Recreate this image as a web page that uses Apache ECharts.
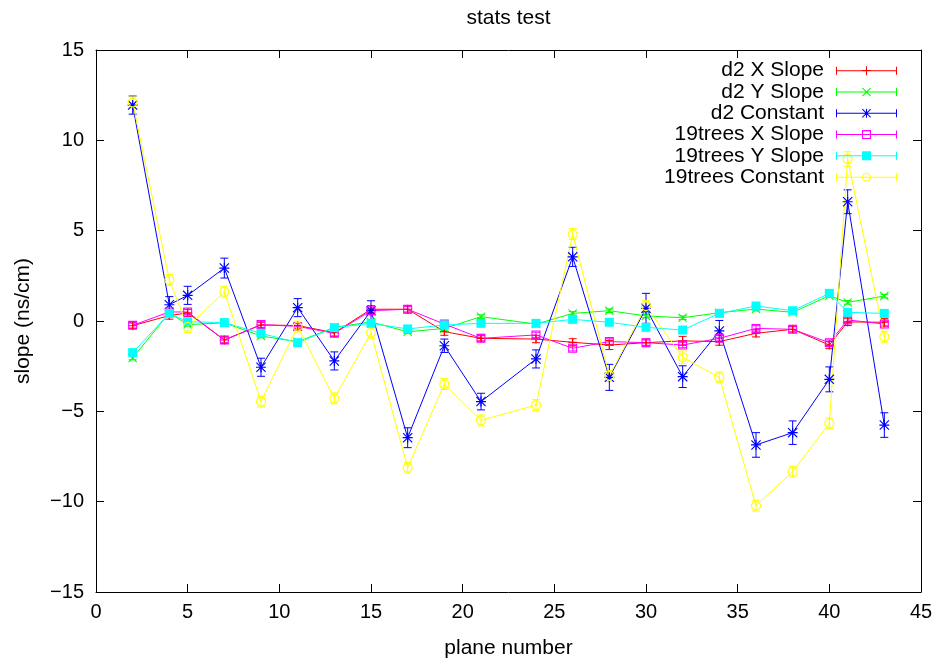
<!DOCTYPE html>
<html>
<head>
<meta charset="utf-8">
<title>stats test</title>
<script src="https://cdn.jsdelivr.net/npm/echarts@6/dist/echarts.min.js"></script>
<style>
  html, body { margin: 0; padding: 0; background: #fff; }
  #chart { width: 944px; height: 664px; }
</style>
</head>
<body>
<div id="chart"></div>
<script>
// Plane numbers along the x axis
const planes = [2, 4, 5, 7, 9, 11, 13, 15, 17, 19, 21, 24, 26, 28, 30, 32, 34, 36, 38, 40, 41, 43];

// Fitted slopes / constants per plane, with their errors
const d2XSlope = [-0.26, 0.3, 0.45, -1.05, -0.22, -0.25, -0.65, 0.65, 0.65, -0.59, -0.96, -1.0, -1.18, -1.33, -1.2, -1.1, -1.14, -0.68, -0.46, -1.33, -0.05, -0.07];
const d2XSlopeErr = [0.15, 0.2, 0.2, 0.2, 0.15, 0.15, 0.2, 0.2, 0.2, 0.2, 0.15, 0.2, 0.2, 0.25, 0.2, 0.25, 0.2, 0.2, 0.15, 0.2, 0.2, 0.2];

const d2YSlope = [-2.05, 0.45, -0.2, -0.1, -0.83, -1.15, -0.35, -0.05, -0.6, -0.41, 0.24, -0.17, 0.42, 0.57, 0.28, 0.18, 0.46, 0.66, 0.48, 1.4, 1.03, 1.38];
const d2YSlopeErr = [0.1, 0.1, 0.1, 0.1, 0.1, 0.1, 0.1, 0.1, 0.1, 0.1, 0.1, 0.1, 0.1, 0.1, 0.1, 0.1, 0.1, 0.1, 0.1, 0.1, 0.1, 0.1];

const d2Constant = [11.95, 0.9, 1.42, 2.93, -2.56, 0.74, -2.21, 0.57, -6.46, -1.37, -4.46, -2.1, 3.55, -3.12, 0.7, -3.08, -0.55, -6.86, -6.18, -3.23, 6.6, -5.76];
const d2ConstantErr = [0.5, 0.45, 0.5, 0.55, 0.5, 0.5, 0.5, 0.55, 0.55, 0.37, 0.46, 0.5, 0.53, 0.72, 0.83, 0.6, 0.58, 0.68, 0.65, 0.69, 0.66, 0.68];

const t19XSlope = [-0.24, 0.5, 0.5, -1.05, -0.2, -0.3, -0.68, 0.57, 0.65, -0.17, -0.96, -0.77, -1.51, -1.14, -1.2, -1.33, -0.96, -0.41, -0.46, -1.2, 0.06, -0.17];
const t19XSlopeErr = [0.15, 0.15, 0.15, 0.15, 0.15, 0.15, 0.15, 0.15, 0.15, 0.15, 0.15, 0.15, 0.15, 0.15, 0.15, 0.15, 0.15, 0.15, 0.15, 0.15, 0.15, 0.15];

const t19YSlope = [-1.75, 0.42, -0.04, -0.09, -0.68, -1.2, -0.37, -0.13, -0.44, -0.22, -0.13, -0.13, 0.09, -0.07, -0.35, -0.5, 0.42, 0.83, 0.57, 1.53, 0.48, 0.42];
const t19YSlopeErr = [0.1, 0.1, 0.1, 0.1, 0.1, 0.1, 0.1, 0.1, 0.1, 0.1, 0.1, 0.1, 0.1, 0.1, 0.1, 0.1, 0.1, 0.1, 0.1, 0.1, 0.1, 0.1];

const t19Constant = [12.1, 2.27, -0.33, 1.62, -4.46, -0.31, -4.28, -0.65, -8.12, -3.49, -5.5, -4.65, 4.81, -3.04, 0.83, -2.01, -3.12, -10.22, -8.34, -5.66, 8.97, -0.87];
const t19ConstantErr = [0.3, 0.3, 0.3, 0.3, 0.3, 0.3, 0.3, 0.3, 0.3, 0.3, 0.3, 0.3, 0.3, 0.3, 0.3, 0.35, 0.3, 0.3, 0.3, 0.3, 0.4, 0.3];

const seriesNames = ['d2 X Slope', 'd2 Y Slope', 'd2 Constant', '19trees X Slope', '19trees Y Slope', '19trees Constant'];
const seriesValues = [d2XSlope, d2YSlope, d2Constant, t19XSlope, t19YSlope, t19Constant];
const seriesErrors = [d2XSlopeErr, d2YSlopeErr, d2ConstantErr, t19XSlopeErr, t19YSlopeErr, t19ConstantErr];

const xTicks = { min: 0, max: 45, step: 5 };
const yTicks = { min: -15, max: 15, step: 5 };

// ---- styling ----
const FONT = "'Liberation Sans', Arial, Helvetica, sans-serif";
const colors = ['#ff0000', '#00ff00', '#0000ff', '#ff00ff', '#00ffff', '#ffff00'];

// Point shapes in unit coordinates (0..1); holes are drawn with reversed winding.
function ring(r, n, reverse) {
  const pts = [];
  for (let i = 0; i < n; i++) {
    const a = (reverse ? -1 : 1) * i / n * Math.PI * 2;
    pts.push([0.5 + r * Math.cos(a), 0.5 + r * Math.sin(a)]);
  }
  return pts;
}
const plusShape = [
  [[0.44, 0], [0.56, 0], [0.56, 1], [0.44, 1]],
  [[0, 0.44], [1, 0.44], [1, 0.56], [0, 0.56]]
];
const crossShape = [
  [[0, 0.08], [0.08, 0], [1, 0.92], [0.92, 1]],
  [[0.92, 0], [1, 0.08], [0.08, 1], [0, 0.92]]
];
const shapes = [
  plusShape,
  crossShape,
  plusShape.concat(crossShape),
  [[[0, 0], [1, 0], [1, 1], [0, 1]], [[0.12, 0.12], [0.12, 0.88], [0.88, 0.88], [0.88, 0.12]]],
  [[[0, 0], [1, 0], [1, 1], [0, 1]]],
  [ring(0.5, 36, false), ring(0.39, 36, true)]
];
const symbolSizes = [9, 9, 10, 9, 9, 10];

function polyPath(polys, ox, oy, s) {
  return polys.map(p => 'M' + p.map(q => (ox + q[0] * s).toFixed(2) + ',' + (oy + q[1] * s).toFixed(2)).join('L') + 'Z').join('');
}
function symbolPath(i) {
  return 'path://' + polyPath(shapes[i], 0, 0, 100);
}
// Key sample: a short error-bar line with end caps and the point shape in the middle
const KEY_W = 61, KEY_H = 9;
function keyIcon(i) {
  const base = 'M0,4L' + KEY_W + ',4L' + KEY_W + ',5L0,5Z' +
    'M0,0.5L1,0.5L1,8.5L0,8.5Z' +
    'M' + (KEY_W - 1) + ',0.5L' + KEY_W + ',0.5L' + KEY_W + ',8.5L' + (KEY_W - 1) + ',8.5Z';
  return 'path://' + base + polyPath(shapes[i], KEY_W / 2 - KEY_H / 2, 0, KEY_H);
}

const minus = v => String(v).replace('-', '\u2212');

function errorBarRenderer(color) {
  return function (params, api) {
    const x = api.value(0);
    const top = api.coord([x, api.value(2)]);
    const bot = api.coord([x, api.value(1)]);
    const hw = 4;
    const style = { stroke: color, lineWidth: 1, fill: null };
    return {
      type: 'group',
      children: [
        { type: 'line', shape: { x1: top[0], y1: top[1], x2: bot[0], y2: bot[1] }, style: style },
        { type: 'line', shape: { x1: top[0] - hw, y1: top[1], x2: top[0] + hw, y2: top[1] }, style: style },
        { type: 'line', shape: { x1: bot[0] - hw, y1: bot[1], x2: bot[0] + hw, y2: bot[1] }, style: style }
      ]
    };
  };
}

const series = [];
seriesNames.forEach((name, i) => {
  const vals = seriesValues[i];
  const errs = seriesErrors[i];
  series.push({
    type: 'custom',
    name: name + ' errors',
    renderItem: errorBarRenderer(colors[i]),
    encode: { x: 0, y: [1, 2] },
    data: planes.map((p, k) => [p, vals[k] - errs[k], vals[k] + errs[k]]),
    silent: true,
    clip: true
  });
  series.push({
    type: 'line',
    name: name,
    data: planes.map((p, k) => [p, vals[k]]),
    symbol: symbolPath(i),
    symbolSize: symbolSizes[i],
    showAllSymbol: true,
    color: colors[i],
    itemStyle: { color: colors[i], borderWidth: 0 },
    lineStyle: { color: colors[i], width: 1 },
    emphasis: { disabled: true },
    silent: true,
    clip: true
  });
});

function makeAxis(t, position, showLabels, extra) {
  return Object.assign({
    type: 'value',
    position: position,
    min: t.min, max: t.max, interval: t.step,
    axisLine: { show: true, onZero: false, lineStyle: { color: '#000', width: 1 } },
    axisTick: { show: true, inside: true, length: 8, lineStyle: { color: '#000', width: 1 } },
    axisLabel: {
      show: showLabels, color: '#000', fontFamily: FONT, fontSize: 20,
      formatter: minus, showMinLabel: true, showMaxLabel: true, hideOverlap: false
    },
    splitLine: { show: false }
  }, extra || {});
}

const chart = echarts.init(document.getElementById('chart'), null, { renderer: 'canvas' });
chart.setOption({
  animation: false,
  backgroundColor: '#fff',
  title: {
    text: 'stats test',
    left: 508.5, top: 8,
    textAlign: 'center',
    padding: 0,
    textStyle: { fontFamily: FONT, fontSize: 21, fontWeight: 'normal', color: '#000' }
  },
  grid: { left: 96, right: 23, top: 50, bottom: 72, containLabel: false, outerBoundsMode: 'none' },
  legend: {
    orient: 'vertical', align: 'right',
    right: 47, top: 60,
    padding: 0, itemGap: 0,
    itemWidth: KEY_W, itemHeight: KEY_H,
    selectedMode: false,
    itemStyle: { borderWidth: 0 },
    textStyle: { fontFamily: FONT, fontSize: 21, color: '#000', lineHeight: 21.3, padding: [0, 7, 0, 0] },
    data: seriesNames.map((n, i) => ({ name: n, icon: keyIcon(i), itemStyle: { color: colors[i], borderWidth: 0 } }))
  },
  xAxis: [
    makeAxis(xTicks, 'bottom', true, {
      name: 'plane number', nameLocation: 'middle', nameGap: 46,
      nameTextStyle: { fontFamily: FONT, fontSize: 21, color: '#000' }
    }),
    makeAxis(xTicks, 'top', false)
  ].map(a => { a.axisLabel.margin = 10; return a; }),
  yAxis: [
    makeAxis(yTicks, 'left', true, {
      name: 'slope (ns/cm)', nameLocation: 'middle', nameGap: 62,
      nameTextStyle: { fontFamily: FONT, fontSize: 21, color: '#000' }
    }),
    makeAxis(yTicks, 'right', false)
  ].map(a => { a.axisLabel.margin = 12; return a; }),
  series: series
});
</script>
</body>
</html>
